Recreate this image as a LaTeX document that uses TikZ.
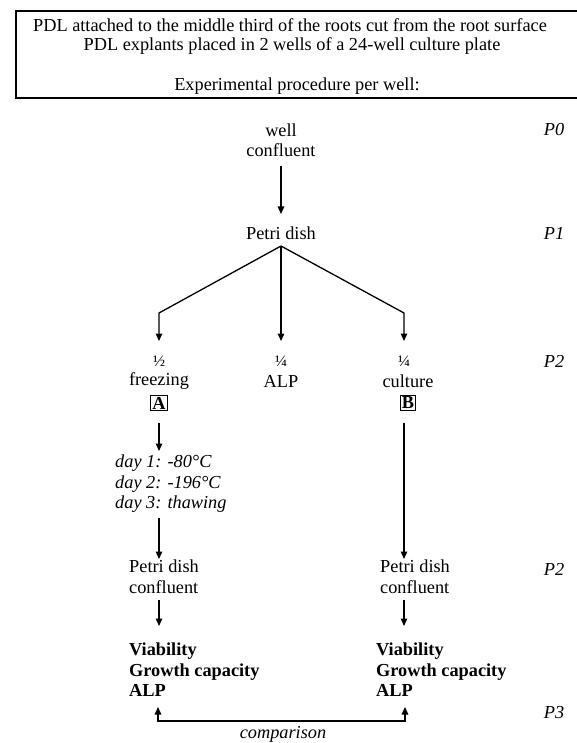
\documentclass[tikz,border=0pt]{standalone}
\usepackage{fontspec}
\setmainfont{Liberation Serif}
\usetikzlibrary{arrows.meta}
\begin{document}
\begin{tikzpicture}[x=1pt,y=-1pt,
  every node/.style={font=\fontsize{18.3}{20.5}\selectfont, inner sep=0pt},
  flow/.style={line width=1.3pt, -{Triangle[length=7.5pt,width=6.5pt]}},
  plain/.style={line width=1.3pt},
  stage/.style={font=\fontsize{18.3}{20.5}\selectfont\itshape},
  frac/.style={font=\fontsize{16}{18}\selectfont},
  letterbox/.style={draw, line width=0.9pt, inner sep=1.5pt, font=\fontsize{18.3}{20.5}\selectfont\bfseries},
  result/.style={align=left, anchor=north west, font=\fontsize{18.3}{20.5}\selectfont\bfseries}]
\useasboundingbox (0,0) rectangle (576,743);

% header frame (open on the right)
\draw[line width=1.3pt] (590,11) -- (16,11) -- (16,98) -- (590,98);
\node (h1) at (290,25) {PDL attached to the middle third of the roots cut from the root surface};
\node (h2) at (292,46) {PDL explants placed in 2 wells of a 24-well culture plate};
\node (h3) at (297,86) {Experimental procedure per well:};

% passage labels
\node[stage] (p0) at (554,130) {P0};
\node[stage] (p1) at (554,233) {P1};
\node[stage] (p2a) at (554,361) {P2};
\node[stage] (p2b) at (554,569) {P2};
\node[stage] (p3) at (554,713) {P3};

% main stem
\node[align=center] (well) at (281,140) {well\\confluent};
\node (petri) at (281,233) {Petri dish};
\draw[flow] (281,166) -- (281,214);

% split into three
\coordinate (split) at (281,246);
\coordinate (lk) at (159,313);
\coordinate (rk) at (404,313);
\draw[flow] (split) -- (lk) -- (159,341);
\draw[flow] (split) -- (281,341);
\draw[flow] (split) -- (rk) -- (404,341);

\node[frac] (half) at (159,361) {½};
\node (frz) at (159,381) {freezing};
\node[letterbox] (A) at (159,403) {A};
\node[frac] (q1) at (281,361) {¼};
\node (alp) at (281,381) {ALP};
\node[frac] (q2) at (404,361) {¼};
\node (cult) at (408,381) {culture};
\node[letterbox] (B) at (408,403) {B};

% freezing branch
\draw[flow] (159,423) -- (159,451);
\node[align=left, anchor=north west, font=\fontsize{18.3}{20.5}\selectfont\itshape] (days) at (115,455)
  {day 1: -80°C\\day 2: -196°C\\day 3: thawing};
\draw[flow] (159,518) -- (159,559);
\node[align=left, anchor=north west] (pdl) at (129,560) {Petri dish\\confluent};
\draw[flow] (159,600) -- (159,626);
\node[result] (resl) at (129,643) {Viability\\Growth capacity\\ALP};

% culture branch
\draw[flow] (404,423) -- (404,559);
\node[align=left, anchor=north west] (pdr) at (380,560) {Petri dish\\confluent};
\draw[flow] (404,600) -- (404,626);
\node[result] (resr) at (376,643) {Viability\\Growth capacity\\ALP};

% comparison
\coordinate (cl) at (158,721);
\coordinate (cr) at (405,721);
\draw[plain, {Triangle[length=7.5pt,width=6.5pt]}-{Triangle[length=7.5pt,width=6.5pt]}] (158,707) -- (cl) -- (cr) -- (405,707);
\node[font=\fontsize{18.3}{20.5}\selectfont\itshape] (cmp) at (283,734) {comparison};
\end{tikzpicture}
\end{document}
